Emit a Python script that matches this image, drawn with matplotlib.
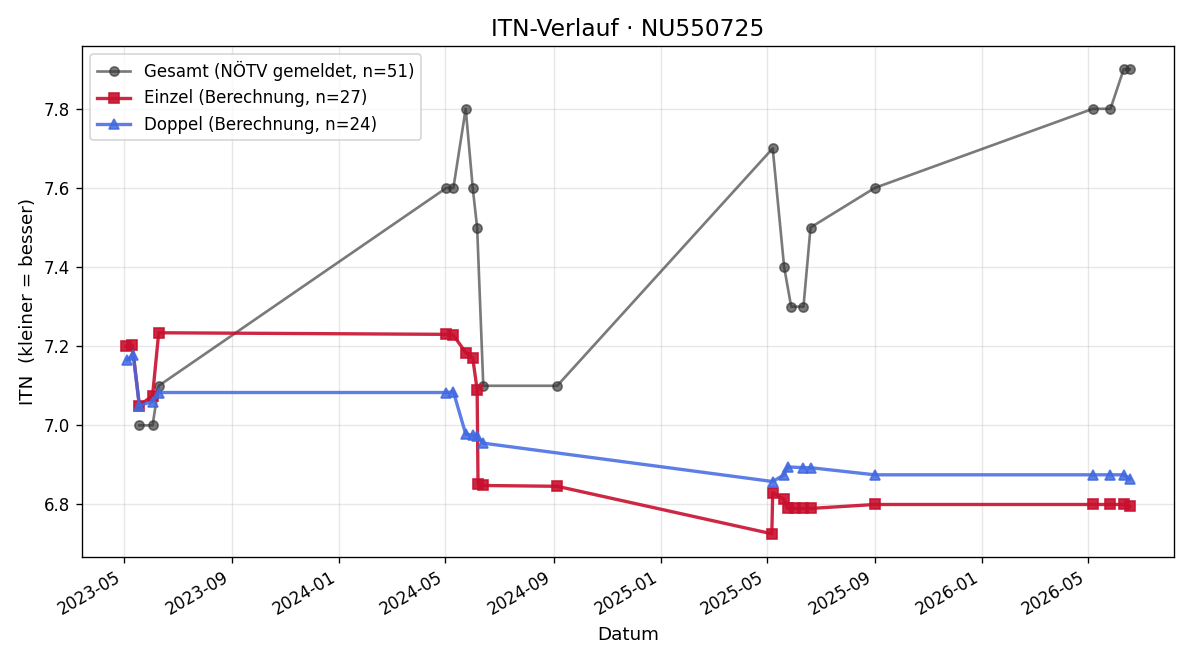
import numpy as np
import pandas as pd
import matplotlib
matplotlib.use("Agg")
import matplotlib.pyplot as plt
import matplotlib.dates as mdates

# Gesamt (NÖTV gemeldet)
ges_dates = pd.to_datetime([
    "2023-05-19", "2023-06-03", "2023-06-10",
    "2024-05-02", "2024-05-10", "2024-05-24", "2024-06-01", "2024-06-06", "2024-06-13",
    "2024-09-05",
    "2025-05-08", "2025-05-21", "2025-05-29", "2025-06-12", "2025-06-20",
    "2025-09-01",
    "2026-05-07", "2026-05-27", "2026-06-11", "2026-06-18"])
ges_vals = [7.0, 7.0, 7.1,
            7.6, 7.6, 7.8, 7.6, 7.5, 7.1,
            7.1,
            7.7, 7.4, 7.3, 7.3, 7.5,
            7.6,
            7.8, 7.8, 7.9, 7.9]

# Einzel (Berechnung)
ein_dates = pd.to_datetime([
    "2023-05-04", "2023-05-11", "2023-05-19", "2023-06-03", "2023-06-10",
    "2024-05-02", "2024-05-10", "2024-05-24", "2024-06-01", "2024-06-06", "2024-06-07", "2024-06-13",
    "2024-09-05",
    "2025-05-07", "2025-05-08", "2025-05-21", "2025-05-25", "2025-06-02", "2025-06-12", "2025-06-20",
    "2025-09-01",
    "2026-05-07", "2026-05-27", "2026-06-11", "2026-06-18"])
ein_vals = [7.20, 7.203, 7.05, 7.075, 7.234,
            7.23, 7.228, 7.184, 7.17, 7.09, 6.853, 6.848,
            6.846,
            6.726, 6.83, 6.813, 6.79, 6.79, 6.79, 6.79,
            6.80,
            6.80, 6.80, 6.80, 6.795]

# Doppel (Berechnung)
dop_dates = pd.to_datetime([
    "2023-05-05", "2023-05-12", "2023-05-19", "2023-06-03", "2023-06-10",
    "2024-05-02", "2024-05-10", "2024-05-24", "2024-06-01", "2024-06-06", "2024-06-13",
    "2025-05-08", "2025-05-21", "2025-05-25", "2025-06-12", "2025-06-20",
    "2025-09-01",
    "2026-05-07", "2026-05-27", "2026-06-11", "2026-06-18"])
dop_vals = [7.165, 7.178, 7.05, 7.06, 7.083,
            7.083, 7.085, 6.978, 6.975, 6.972, 6.955,
            6.858, 6.875, 6.895, 6.893, 6.893,
            6.875,
            6.875, 6.875, 6.875, 6.865]

fig, ax = plt.subplots(figsize=(10, 5.5), dpi=120)

ax.plot(ges_dates, ges_vals, "-o", color="#333333", alpha=0.65, lw=1.6, ms=5.5,
        label="Gesamt (NÖTV gemeldet, n=51)")
ax.plot(ein_dates, ein_vals, "-s", color="#c8102e", alpha=0.9, lw=2, ms=6,
        label="Einzel (Berechnung, n=27)")
ax.plot(dop_dates, dop_vals, "-^", color="#4169e1", alpha=0.85, lw=2, ms=6,
        label="Doppel (Berechnung, n=24)")

ax.set_title("ITN-Verlauf · NU550725", fontsize=14)
ax.set_xlabel("Datum", fontsize=11)
ax.set_ylabel("ITN  (kleiner = besser)", fontsize=11)
ax.margins(x=0.044)
ax.xaxis.set_major_locator(mdates.MonthLocator(bymonth=[1, 5, 9]))
ax.xaxis.set_major_formatter(mdates.DateFormatter("%Y-%m"))
ax.grid(True, alpha=0.3)
ax.legend(loc="upper left")
fig.autofmt_xdate()
fig.subplots_adjust(left=82/1200, right=1174/1200, top=1-46/660, bottom=1-557/660)
plt.savefig("out.png")
